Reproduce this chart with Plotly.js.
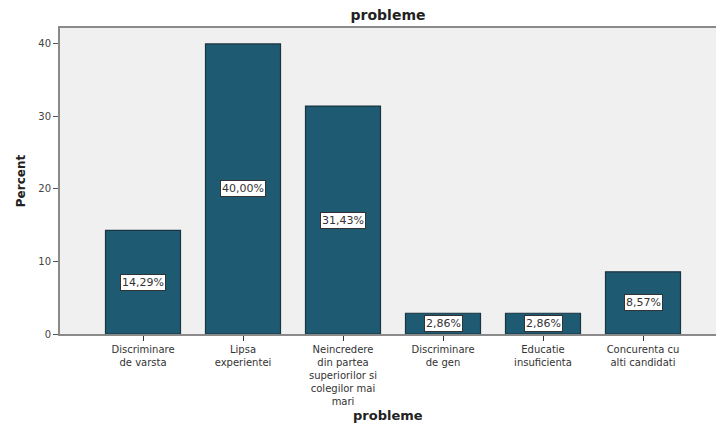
<!DOCTYPE html>
<html>
<head>
<meta charset="utf-8">
<script src="https://cdn.plot.ly/plotly-3.0.1.min.js"></script>
<style>html,body{margin:0;padding:0;background:#fff;}#chart{width:716px;height:424px;}</style>
</head>
<body>
<div id="chart"></div>
<script>
const categories = [
  "Discriminare<br>de varsta",
  "Lipsa<br>experientei",
  "Neincredere<br>din partea<br>superiorilor si<br>colegilor mai<br>mari",
  "Discriminare<br>de gen",
  "Educatie<br>insuficienta",
  "Concurenta cu<br>alti candidati"
];
const percents = [14.29, 40.00, 31.43, 2.86, 2.86, 8.57];
const yTicks = [0, 10, 20, 30, 40];

const fmt = v => v.toFixed(2).replace('.', ',') + '%';

const trace = {
  type: 'bar',
  x: categories,
  y: percents,
  marker: {color: '#1e5b72', line: {color: '#1a3440', width: 1.2}},
  hoverinfo: 'none'
};

const annotations = categories.map((c, i) => ({
  x: c, y: percents[i] / 2, xref: 'x', yref: 'y',
  text: fmt(percents[i]), showarrow: false,
  bgcolor: '#ffffff', bordercolor: '#333333', borderwidth: 1, borderpad: 1,
  font: {family: 'DejaVu Sans', size: 11, color: '#333333'}
}));

annotations.push({
  text: '<b>probleme</b>', xref: 'paper', yref: 'paper', x: 0.5, y: -0.265,
  xanchor: 'center', yanchor: 'middle', showarrow: false,
  font: {family: 'DejaVu Sans', size: 13, color: '#222222'}
});

const layout = {
  width: 716, height: 424,
  margin: {l: 60, r: 0, t: 28, b: 90},
  paper_bgcolor: '#ffffff',
  plot_bgcolor: '#f0f0f0',
  bargap: 0.25,
  showlegend: false,
  title: {text: '<b>probleme</b>', x: 0.5, xref: 'paper', y: 0.965, yref: 'container', yanchor: 'middle',
          font: {family: 'DejaVu Sans', size: 14, color: '#222222'}},
  xaxis: {
    type: 'category', range: [-0.83, 5.73],
    showline: true, linecolor: '#8a8a8a', linewidth: 2, mirror: true,
    ticks: 'outside', ticklen: 5, tickcolor: '#333333', tickwidth: 1,
    tickfont: {family: 'DejaVu Sans', size: 10, color: '#333333'},
    showgrid: false, zeroline: false
  },
  yaxis: {
    range: [0, 42.2], tickvals: yTicks,
    showline: true, linecolor: '#8a8a8a', linewidth: 2,
    ticks: 'outside', ticklen: 5, tickcolor: '#555555', tickwidth: 1,
    tickfont: {family: 'DejaVu Sans', size: 10, color: '#444444'},
    showgrid: false, zeroline: false,
    title: {text: '<b>Percent</b>', standoff: 10, font: {family: 'DejaVu Sans', size: 12, color: '#222222'}}
  },
  annotations: annotations
};

Plotly.newPlot('chart', [trace], layout, {displayModeBar: false, staticPlot: true});
</script>
</body>
</html>
